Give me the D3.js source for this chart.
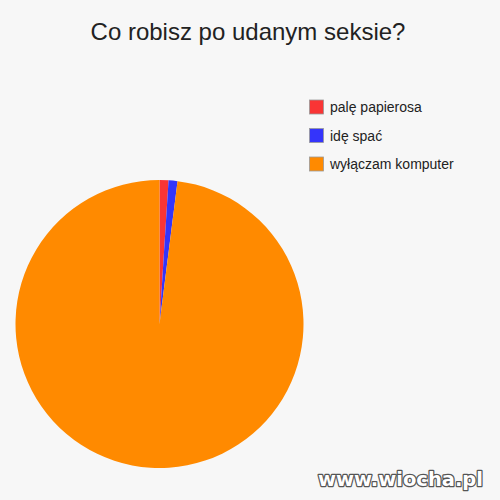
<!DOCTYPE html>
<html>
<head>
<meta charset="utf-8">
<script src="https://cdn.jsdelivr.net/npm/d3@7"></script>
<style>
  body { margin: 0; background: #f7f7f7; }
  svg { display: block; }
</style>
</head>
<body>
<svg width="500" height="500"></svg>
<script>
let width = 500;
let height = 500;

let categories = ['palę papierosa', 'idę spać', 'wyłączam komputer'];
let values = [1, 1, 98];
let colors = ['#f93535', '#3434fb', '#ff8a00'];
let title = 'Co robisz po udanym seksie?';

let svg = d3.select('svg');

svg.append('rect')
  .attr('width', width)
  .attr('height', height)
  .attr('fill', '#f7f7f7');

svg.append('text')
  .attr('x', 248)
  .attr('y', 40)
  .attr('text-anchor', 'middle')
  .attr('font-family', 'Liberation Sans, Arial, sans-serif')
  .attr('font-size', 24)
  .attr('fill', '#222')
  .text(title);

let pie = d3.pie().sort(null).value(d => d);
let arc = d3.arc().innerRadius(0).outerRadius(144);

svg.append('g')
  .attr('transform', 'translate(159.5,324)')
  .selectAll('path')
  .data(pie(values))
  .enter()
    .append('path')
    .attr('d', arc)
    .attr('fill', (d, i) => colors[i]);

let legendY = d3.scalePoint()
  .domain(categories)
  .range([107, 164]);

let legend = svg.append('g')
  .selectAll('g')
  .data(categories)
  .enter()
    .append('g')
    .attr('transform', d => `translate(309,${legendY(d)})`);

legend.append('rect')
  .attr('x', 0.5)
  .attr('y', -7)
  .attr('width', 14)
  .attr('height', 14)
  .attr('fill', (d, i) => colors[i])
  .attr('stroke', '#999')
  .attr('stroke-width', 0.8);

legend.append('text')
  .attr('x', 21)
  .attr('y', 5)
  .attr('font-family', 'Liberation Sans, Arial, sans-serif')
  .attr('font-size', 14)
  .attr('fill', '#222')
  .text(d => d);

// watermark
svg.append('text')
  .attr('x', 483)
  .attr('y', 486)
  .attr('text-anchor', 'end')
  .attr('font-family', 'DejaVu Sans, sans-serif')
  .attr('font-weight', 'bold')
  .attr('font-size', 19.5)
  .attr('fill', '#fff')
  .attr('stroke', '#555')
  .attr('stroke-width', 2.5)
  .attr('paint-order', 'stroke')
  .attr('stroke-linejoin', 'round')
  .text('www.wiocha.pl');
</script>
</body>
</html>
